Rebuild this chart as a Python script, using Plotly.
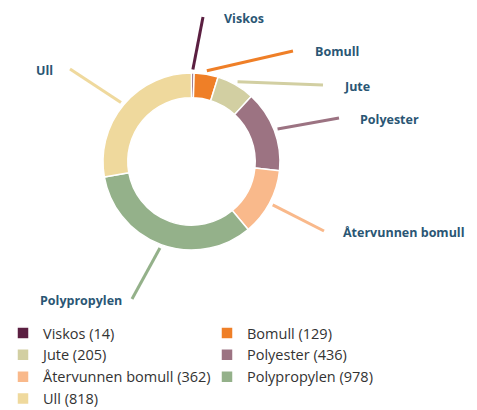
import math
import plotly.graph_objects as go

# data
materialer = ['Viskos', 'Bomull', 'Jute', 'Polyester', 'Återvunnen bomull', 'Polypropylen', 'Ull']
antall = [14, 129, 205, 436, 362, 978, 818]
farger = ['#5b1f41', '#ef7f27', '#d2cfa2', '#9c7382', '#f9b98b', '#94b18a', '#efd99d']

# the page body has an 8px margin, so the figure is made a bit smaller
# and the helper axes are given in window pixels
OFF = 8
W, H = 477 - OFF, 410 - OFF
cx, cy, r = 191.5, 161.5, 88.5
label_pos = [(222, 18), (313, 51), (342, 86), (358, 119), (341, 232), (38, 300), (34, 70)]
line_end = [(203, 17), (293, 51), (323, 85), (339, 118), (324, 231), (132, 299), (70, 69)]


def px_x(p):
    return (p - OFF) / W


def px_y(p):
    return 1 - (p - OFF) / H


fig = go.Figure()
fig.add_trace(go.Pie(
    labels=[f'{m} ({v})' for m, v in zip(materialer, antall)],
    values=antall,
    hole=0.72,
    sort=False,
    direction='clockwise',
    rotation=0,
    textinfo='none',
    hoverinfo='label+percent',
    marker=dict(colors=farger, line=dict(color='white', width=1.5)),
    domain=dict(x=[px_x(cx - r), px_x(cx + r)], y=[px_y(cy + r), px_y(cy - r)]),
))

# leader lines from each slice middle to its label
total = sum(antall)
acc = 0
for i, v in enumerate(antall):
    mid = (acc + v / 2) / total * 2 * math.pi
    acc += v
    x0 = cx + (r + 3.5) * math.sin(mid)
    y0 = cy - (r + 3.5) * math.cos(mid)
    x1, y1 = line_end[i]
    fig.add_shape(type='line', xref='x', yref='y', x0=x0, y0=y0, x1=x1, y1=y1,
                  line=dict(color=farger[i], width=3))
    fig.add_annotation(x=label_pos[i][0], y=label_pos[i][1], xref='x', yref='y',
                       text=f'<b>{materialer[i]}</b>', showarrow=False,
                       xanchor='left', yanchor='middle',
                       font=dict(family='Open Sans', size=12.5, color='#2a5674'))

fig.update_xaxes(range=[OFF, OFF + W], visible=False, fixedrange=True)
fig.update_yaxes(range=[OFF + H, OFF], visible=False, fixedrange=True)

fig.update_layout(
    width=W, height=H,
    margin=dict(l=0, r=0, t=0, b=0, autoexpand=False),
    paper_bgcolor='white', plot_bgcolor='white',
    font=dict(family='Open Sans', size=14.5, color='#333333'),
    showlegend=True,
    legend=dict(orientation='h', x=0, y=px_y(317), xanchor='left', yanchor='top',
                indentation=-5,
                entrywidth=164, entrywidthmode='pixels', traceorder='normal',
                font=dict(size=14.5, color='#333333')),
)

fig.write_html('out.html')
